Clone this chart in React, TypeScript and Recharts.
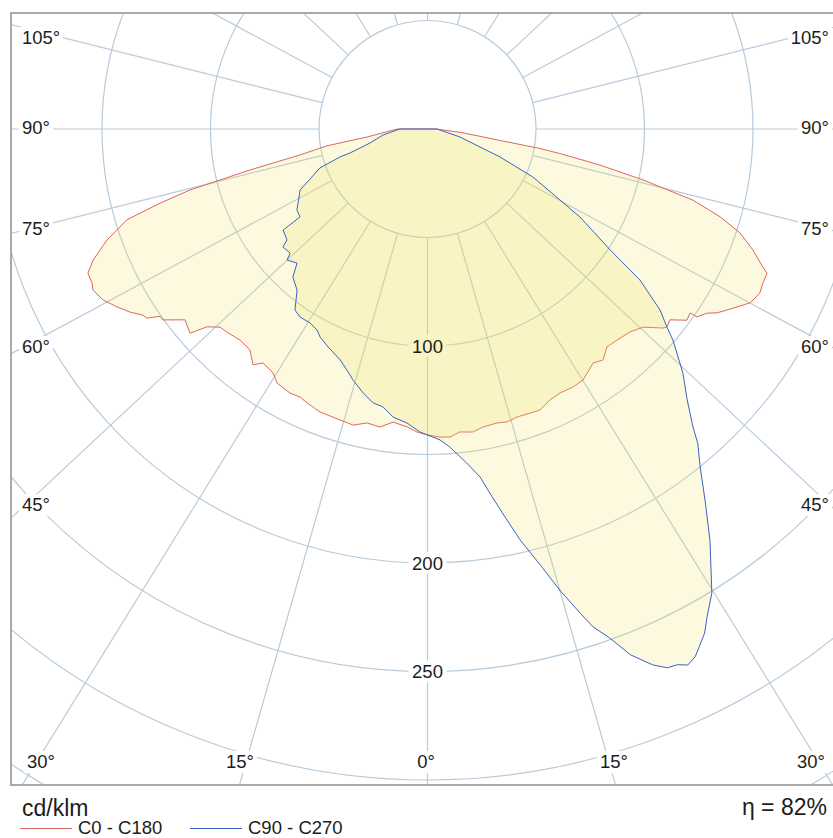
import React from 'react';
import { RadarChart, Radar, PolarGrid, PolarAngleAxis, PolarRadiusAxis } from 'recharts';

// Luminous intensity per C-plane: [gamma in degrees from nadir, cd/klm]
type Reading = [number, number];

const C0: Reading[] = [
  [0, 141], [2.3, 142.1], [4.2, 142.3], [6.1, 140.4], [8.5, 141.2], [10.5, 139.7],
  [13.3, 139.2], [15.2, 139.9], [17.3, 139], [21.8, 139.5], [24.3, 137], [26.7, 136.1],
  [29.4, 136.5], [31.8, 136.1], [35.3, 132.1], [37.2, 133.7], [39.5, 130.1], [41.9, 130.7],
  [44.9, 132.1], [47.4, 134.9], [49.8, 142.1], [50.4, 143.2], [51.8, 142.2], [53.6, 148.5],
  [55, 147.8], [55.1, 151.4], [56.6, 154.2], [57.6, 158.1], [59.6, 163.2], [61.7, 168.9],
  [63.7, 170.8], [65.3, 170.1], [67, 170], [67.6, 167.2], [69.6, 160], [71.6, 151.8],
  [73.3, 140.8], [75, 126.6], [76.7, 102.1], [78.2, 81], [79.5, 62], [80.2, 52],
  [81, 34], [84, 16], [90, 4],
];

const C180: Reading[] = [
  [0, 141], [2, 139.7], [3.9, 137.6], [6.7, 136], [9.1, 139.1], [11.6, 138.3],
  [14.1, 140.7], [16.7, 140], [20.8, 139.5], [23.7, 137.9], [25.4, 136.8], [27.5, 137.2],
  [30.6, 136.1], [32.3, 133.1], [35.1, 131.8], [36.5, 135.2], [38.8, 130.6], [41.6, 130.1],
  [44.6, 131.5], [46.3, 132.2], [48.1, 136.5], [49.3, 144.3], [51.8, 142.2], [54.2, 150.4],
  [55, 150.4], [56, 155.9], [56.8, 156.7], [58.4, 161], [60.2, 164.9], [62.2, 169],
  [64.3, 171.1], [65.3, 170.1], [67, 170], [68.6, 165.5], [70.9, 156.3], [73.2, 144.7],
  [74.5, 127.9], [75.6, 113], [77, 84], [78.5, 60], [80.5, 47], [82.5, 28], [90, 14],
];

const C90: Reading[] = [
  [0, 141], [2.3, 143.4], [4, 146.9], [6.7, 155], [8.6, 162.2], [9.7, 170.2],
  [11.3, 182.3], [12.7, 194.1], [14.5, 207.5], [16, 221], [17.5, 233.9], [18.4, 241.8],
  [19.7, 249.2], [21.1, 259.7], [22.8, 267.9], [24, 271.8], [25, 272.4], [25.9, 274.6],
  [26.9, 272.7], [28.8, 265.1], [29.8, 259.2], [31.5, 250.8], [34.5, 229.8], [36.8, 213.5],
  [38.9, 200.1], [40.7, 191], [41.7, 183.9], [43.8, 172.9], [46.3, 162.8], [49.3, 149.2],
  [50.4, 143.2], [52.1, 135.8], [54.6, 120.1], [56.5, 100.9], [60, 81.1], [61.8, 69.3],
  [65.5, 53.4], [68.9, 35.8], [76.2, 15.4], [90, 4.4],
];

const C270: Reading[] = [
  [0, 141], [1.4, 139.7], [4, 135.8], [6.8, 133.7], [9.1, 129.7], [11.2, 128.7],
  [13.7, 125.2], [16.5, 120.7], [18.5, 117.1], [20.7, 113.8], [24.5, 110.4], [27.3, 107.9],
  [28.8, 105.7], [31.2, 104.5], [34.1, 104.7], [36.2, 103.4], [39, 95.5], [42.3, 92.2],
  [44.2, 86.2], [47, 88.5], [47.9, 85.3], [50.8, 86], [51.7, 82.5], [55, 81.2],
  [55.4, 71.4], [58.2, 70.8], [64.4, 65.1], [70.1, 52.7], [72.3, 42.3], [72.8, 37.4],
  [76.3, 27.3], [82.3, 20.7], [90, 12.7],
];

const RING_VALUES = [50, 100, 150, 200, 250, 300, 350];
const RING_LABELS = [100, 200, 250];
const SPOKE_GAMMA = [0, 15, 30, 45, 60, 75, 90, 105, 120, 135, 150, 165, 180, 195, 210, 225, 240, 255, 270, 285, 300, 315, 330, 345];
const SIDE_LABELS = ['105°', '90°', '75°', '60°', '45°'];
const BOTTOM_LABELS = ['30°', '15°', '0°', '15°', '30°'];
const UNIT = 'cd/klm';
const EFFICIENCY = 82;

// layout
const PAGE_W = 833;
const PAGE_H = 838;
const FRAME = { x: 11, y: 13, w: 829, h: 772 };
const ORIGIN = { x: 427.5, y: 129 };
const PX_PER_CD = 2.17;
const R_MAX = 400;
const SPOKE_SQUASH = 1.07; // spokes lean slightly toward the horizontal
const SIDE_LABEL_Y = [38, 128, 229, 347, 505];
const BOTTOM_LABEL_X = [41, 240, 426, 614, 811];
const BOTTOM_LABEL_Y = 762;

const GRID = '#b8cbdb';
const RED = '#d8695e';
const BLUE = '#3b62c6';
const FILL = '#efe35a';
const INK = '#1c1c1c';
const FONT = '"Liberation Sans", Arial, sans-serif';

// right half uses phi = gamma, left half phi = 360 - gamma, closed through the zenith
const planeLoop = (right: Reading[], left: Reading[]) => [
  ...right.map(([g, v]) => ({ phi: g, v })),
  { phi: 180, v: 0 },
  ...[...left].reverse().map(([g, v]) => ({ phi: 360 - g, v })),
];

const longitudinal = planeLoop(C0, C180);
const transverse = planeLoop(C90, C270);

const spokeAngle = (g: number) => {
  const t = (g * Math.PI) / 180;
  return (Math.atan2(-Math.cos(t), SPOKE_SQUASH * Math.sin(t)) * 180) / Math.PI;
};
const SPOKE_ANGLES = SPOKE_GAMMA.map(spokeAngle);

const polarProps = {
  width: FRAME.w,
  height: FRAME.h,
  cx: ORIGIN.x - FRAME.x,
  cy: ORIGIN.y - FRAME.y,
  startAngle: -90,
  endAngle: 270,
  margin: { top: 0, right: 0, bottom: 0, left: 0 },
};

const layer: React.CSSProperties = { position: 'absolute', left: 0, top: 0 };

// white patch under the ring value, drawn beneath the fills
const renderRingPatch = (props: any) => {
  const { x, y, payload } = props;
  if (!RING_LABELS.includes(payload.value)) return <g />;
  return <rect x={x - 19} y={y - 11} width={38} height={22} fill="#fff" />;
};

// ring value text, drawn above the fills
const renderRingText = (props: any) => {
  const { x, y, payload } = props;
  return (
    <text x={x} y={y} textAnchor="middle" dominantBaseline="central" fontSize={18.5} fontFamily={FONT} fill={INK}>
      {payload.value}
    </text>
  );
};

type PlaneProps = { data: { phi: number; v: number }[]; stroke: string; ringText?: boolean };

const PlaneChart = ({ data, stroke, ringText }: PlaneProps) => (
  <div style={layer}>
    <RadarChart {...polarProps} innerRadius={0} outerRadius={R_MAX * PX_PER_CD} data={data}>
      <PolarAngleAxis dataKey="phi" type="number" scale="linear" domain={[0, 360]} tick={false} axisLine={false} />
      <Radar dataKey="v" stroke={stroke} strokeWidth={1} fill={FILL} fillOpacity={0.2} dot={false} isAnimationActive={false} />
      <PolarRadiusAxis
        angle={-90}
        domain={[0, R_MAX]}
        allowDataOverflow
        ticks={RING_LABELS}
        tick={ringText ? renderRingText : false}
        axisLine={false}
      />
    </RadarChart>
  </div>
);

const labelBase: React.CSSProperties = {
  position: 'absolute',
  fontSize: 18.5,
  lineHeight: '22px',
  color: INK,
  background: '#fff',
  padding: '0 3px',
  whiteSpace: 'nowrap',
};

export default function App() {
  return (
    <div style={{ position: 'absolute', left: 0, top: 0, width: PAGE_W, height: PAGE_H, overflow: 'hidden', background: '#fff', fontFamily: FONT }}>
      <div style={{ position: 'absolute', left: FRAME.x, top: FRAME.y, width: FRAME.w, height: FRAME.h, overflow: 'hidden' }}>
        <div style={layer}>
          <RadarChart {...polarProps} innerRadius={50 * PX_PER_CD} outerRadius={R_MAX * PX_PER_CD} data={longitudinal}>
            <PolarGrid gridType="circle" polarAngles={SPOKE_ANGLES} stroke={GRID} strokeWidth={1.2} />
            <PolarAngleAxis dataKey="phi" type="number" scale="linear" domain={[0, 360]} tick={false} axisLine={false} />
            <PolarRadiusAxis angle={-90} domain={[50, R_MAX]} allowDataOverflow ticks={RING_VALUES} tick={renderRingPatch} axisLine={false} />
          </RadarChart>
        </div>
        <PlaneChart data={longitudinal} stroke={RED} />
        <PlaneChart data={transverse} stroke={BLUE} ringText />
      </div>

      <div style={{ position: 'absolute', left: FRAME.x - 1, top: FRAME.y - 1, width: FRAME.w + 2, height: FRAME.h + 2, border: '2px solid #a9a9a9', boxSizing: 'border-box', pointerEvents: 'none' }} />

      {SIDE_LABELS.map((t, i) => (
        <div key={`l${i}`} style={{ ...labelBase, left: 19, top: SIDE_LABEL_Y[i] - 11 }}>{t}</div>
      ))}
      {SIDE_LABELS.map((t, i) => (
        <div key={`r${i}`} style={{ ...labelBase, right: PAGE_W - 832, top: SIDE_LABEL_Y[i] - 11 }}>{t}</div>
      ))}
      {BOTTOM_LABELS.map((t, i) => (
        <div key={`b${i}`} style={{ ...labelBase, left: BOTTOM_LABEL_X[i], top: BOTTOM_LABEL_Y - 11, transform: 'translateX(-50%)' }}>{t}</div>
      ))}

      <div style={{ position: 'absolute', left: 22, top: 794, fontSize: 23, lineHeight: '28px', color: INK }}>{UNIT}</div>
      <div style={{ position: 'absolute', right: PAGE_W - 827, top: 793, fontSize: 23, lineHeight: '28px', color: INK }}>η = {EFFICIENCY}%</div>

      <div style={{ position: 'absolute', left: 20, top: 828, width: 52, height: 1, background: RED }} />
      <div style={{ position: 'absolute', left: 78, top: 817, fontSize: 18.5, lineHeight: '22px', color: INK, whiteSpace: 'nowrap' }}>C0 - C180</div>
      <div style={{ position: 'absolute', left: 190, top: 828, width: 52, height: 1, background: BLUE }} />
      <div style={{ position: 'absolute', left: 248, top: 817, fontSize: 18.5, lineHeight: '22px', color: INK, whiteSpace: 'nowrap' }}>C90 - C270</div>
    </div>
  );
}
